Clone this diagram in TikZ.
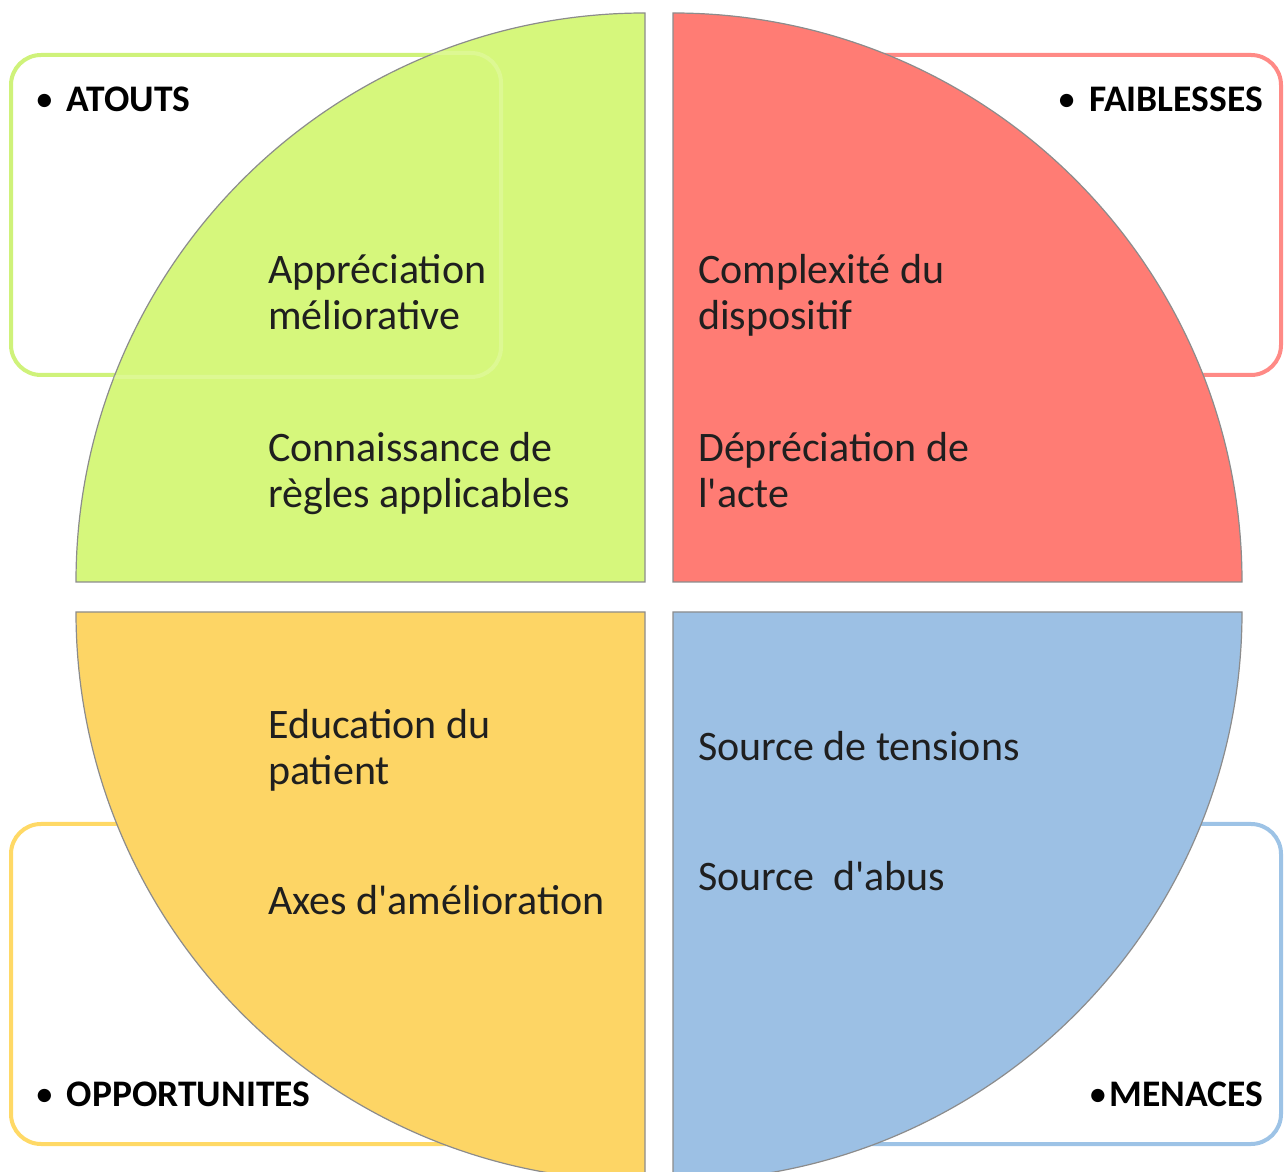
\documentclass[tikz,border=0pt]{standalone}
\usepackage{fontspec}
\setmainfont{Carlito}
\usepackage{xcolor}
\definecolor{atoutsfill}{HTML}{D6F77C}
\definecolor{atoutsline}{HTML}{CFF27A}
\definecolor{faiblfill}{HTML}{FF7C74}
\definecolor{faiblline}{HTML}{FF8A86}
\definecolor{opportfill}{HTML}{FDD565}
\definecolor{opportline}{HTML}{FFD966}
\definecolor{menacefill}{HTML}{9CC0E4}
\definecolor{menaceline}{HTML}{9DC3E6}
\definecolor{pieedge}{HTML}{8C8C8C}
\newcommand{\sq}{\textquotesingle}
\newcommand{\puce}{{\mdseries\textbullet}}

\begin{document}
\begin{tikzpicture}[
  x=1pt, y=1pt,
  every node/.style={inner sep=0pt},
  panel/.style={line width=4pt, rounded corners=30pt, fill=white,
                minimum width=488pt, minimum height=320pt},
  quarter/.style={draw=pieedge, line width=1.2pt},
  item/.style={font=\fontsize{42}{46}\selectfont, align=left,
               anchor=base west, text=black!88},
  tag/.style={font=\bfseries\fontsize{37.5}{45}\selectfont, text=black}
]
\useasboundingbox (0,0) rectangle (1286,1171);

% corner panels, behind the disc
\node[panel, draw=atoutsline] (atouts) at (255,956) {};
\node[panel, draw=faiblline] (faibl) at (1037,956) {};
\node[panel, draw=opportline] (opport) at (255,187) {};
\node[panel, draw=menaceline] (menace) at (1037,187) {};

% the four quarters of the disc
\filldraw[quarter, fill=atoutsfill] (645,589) -- (76,589)
  arc[start angle=180, end angle=90, radius=569pt] -- cycle;
\filldraw[quarter, fill=faiblfill] (673,589) -- (673,1158)
  arc[start angle=90, end angle=0, radius=569pt] -- cycle;
\filldraw[quarter, fill=opportfill] (645,559) -- (76,559)
  arc[start angle=180, end angle=270, radius=569pt] -- cycle;
\filldraw[quarter, fill=menacefill] (673,559) -- (1242,559)
  arc[start angle=0, end angle=-90, radius=569pt] -- cycle;

% faint edge of the green panel seen through its quarter
\begin{scope}
  \clip (645,589) -- (76,589) arc[start angle=180, end angle=90, radius=569pt] -- cycle;
  \draw[line width=4pt, rounded corners=30pt, draw=white, draw opacity=0.18]
    (atouts.south west) rectangle (atouts.north east);
\end{scope}

% panel titles
\node[tag, anchor=base west] (atoutstag) at (35,1059) {\puce\hspace{13pt}ATOUTS};
\node[tag, anchor=base east] (faibltag) at (1263,1059) {\puce\hspace{13pt}FAIBLESSES};
\node[tag, anchor=base west] (opporttag) at (35,65) {\puce\hspace{13pt}OPPORTUNITES};
\node[tag, anchor=base east] (menacetag) at (1263,65) {\puce\hspace{2pt}MENACES};

% items in each quarter (base = last line)
\node[item] (apprec) at (268,841) {Appréciation\\méliorative};
\node[item] (regles) at (268,663) {Connaissance de\\règles applicables};
\node[item] (complex) at (698,841) {Complexité du\\dispositif};
\node[item] (deprec) at (698,663) {Dépréciation de\\l\sq acte};
\node[item] (educ) at (268,386) {Education du\\patient};
\node[item] (axes) at (268,256) {Axes d\sq amélioration};
\node[item] (tensions) at (698,410) {Source de tensions};
\node[item] (abus) at (698,280) {Source~~d\sq abus};
\end{tikzpicture}
\end{document}
